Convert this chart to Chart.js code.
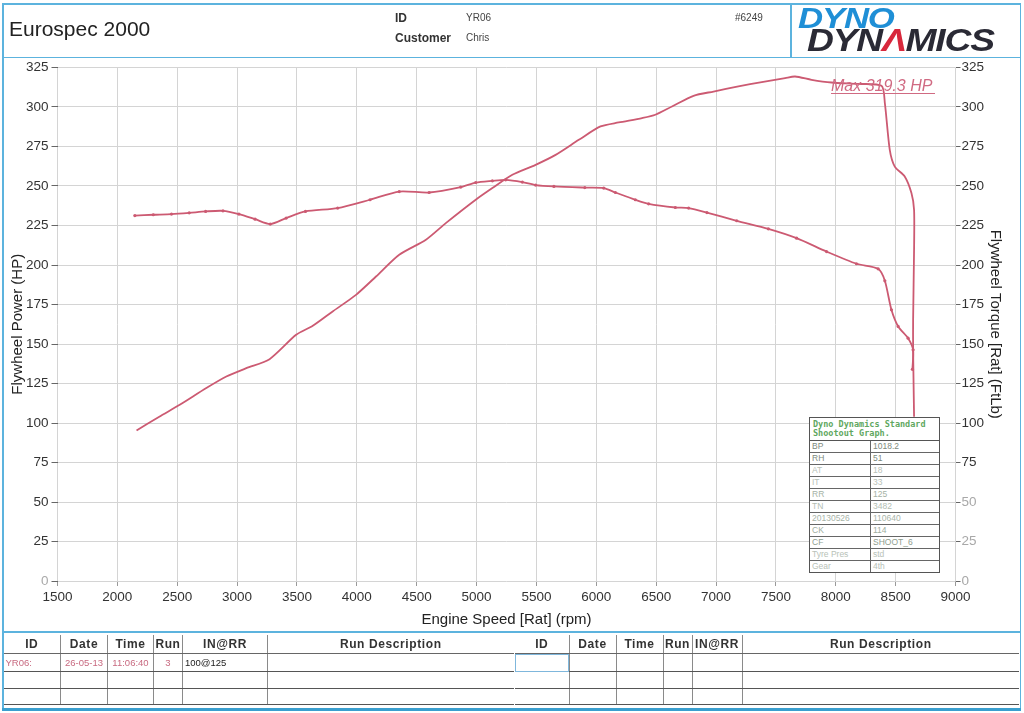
<!DOCTYPE html>
<html>
<head>
<meta charset="utf-8">
<script src="https://cdn.jsdelivr.net/npm/chart.js@4/dist/chart.umd.min.js"></script>
<style>
  html,body{margin:0;padding:0;background:#fff;}
  body{width:1024px;height:713px;overflow:hidden;position:relative;font-family:"Liberation Sans",Arial,sans-serif;color:#222;}
  #c{position:absolute;left:0;top:0;}
  .bl{position:absolute;background:#5cb3de;}
  .hd{position:absolute;line-height:1;white-space:nowrap;}
  .tbl{position:absolute;border-collapse:collapse;table-layout:fixed;}
  .tbl td{padding:0;border-left:1px solid #8a8a8a;border-bottom:1px solid #555;text-align:center;white-space:nowrap;overflow:hidden;font-size:9.5px;}
  .tbl td:first-child{border-left:none;}
  .tbl tr.h td{height:18px;font-weight:bold;font-size:12px;letter-spacing:0.6px;color:#333;border-bottom:1px solid #666;}
  .tbl tr.r1 td{height:17px;}
  .tbl tr.r td{height:15.5px;}
  .pk{color:#c86a80;}
  .lft{text-align:left !important;padding-left:2px !important;}
  #info{position:absolute;left:809px;top:417px;width:129px;border:1px solid #555;background:#fff;}
  #info .ih{height:20px;border-bottom:1px solid #555;font:bold 8.5px "DejaVu Sans Mono",monospace;color:#5fa85f;padding:2px 0 0 3px;line-height:9px;}
  #info .ir{height:11px;border-bottom:1px solid #666;display:flex;font-size:8.5px;line-height:11px;}
  #info .ir:last-child{border-bottom:none;}
  #info .k{width:58px;border-right:1px solid #666;padding-left:2px;flex:none;}
  #info .v{padding-left:2px;}
  #maxlbl{position:absolute;left:831px;top:79px;font-style:italic;font-size:16px;line-height:14px;color:#d06a82;border-bottom:1px solid #d06a82;padding-right:3px;white-space:nowrap;}
</style>
</head>
<body>
<canvas id="c" width="1024" height="713"></canvas>

<!-- frame lines -->
<div class="bl" style="left:2px;top:3px;width:1018px;height:1.5px;"></div>
<div class="bl" style="left:2px;top:56.5px;width:1018px;height:1.5px;"></div>
<div class="bl" style="left:2px;top:3px;width:1.5px;height:708px;"></div>
<div class="bl" style="left:1019.5px;top:3px;width:1.5px;height:708px;"></div>
<div class="bl" style="left:790px;top:3px;width:1.5px;height:54px;"></div>
<div class="bl" style="left:2px;top:631px;width:1019px;height:1.5px;"></div>
<div class="bl" style="left:2px;top:708px;width:1019px;height:3px;background:#3a9fcf;"></div>

<!-- header -->
<div class="hd" style="left:9px;top:17.5px;font-size:21px;color:#222;">Eurospec 2000</div>
<div class="hd" style="left:395px;top:12px;font-size:12px;font-weight:bold;color:#333;">ID</div>
<div class="hd" style="left:395px;top:32px;font-size:12px;font-weight:bold;color:#333;">Customer</div>
<div class="hd" style="left:466px;top:13px;font-size:10px;color:#444;">YR06</div>
<div class="hd" style="left:466px;top:33px;font-size:10px;color:#444;">Chris</div>
<div class="hd" style="left:735px;top:13px;font-size:10px;color:#444;">#6249</div>
<div class="hd" style="left:798px;top:4px;font-size:29px;font-weight:bold;font-style:italic;color:#1f8fd6;letter-spacing:-1px;transform:scaleX(1.2);transform-origin:left top;">DYNO</div>
<div class="hd" style="left:807px;top:25px;font-size:31px;font-weight:bold;font-style:italic;color:#2a2a35;letter-spacing:-1px;transform:scaleX(1.2);transform-origin:left top;">DYN<span style="color:#d8283c;">Λ</span>MICS</div>

<div id="maxlbl">Max 319.3 HP</div>

<div id="info">
  <div class="ih">Dyno Dynamics Standard<br>Shootout Graph.</div>
  <div class="ir" style="color:#7d8a7d"><span class="k">BP</span><span class="v">1018.2</span></div>
  <div class="ir" style="color:#7d8a7d"><span class="k">RH</span><span class="v">51</span></div>
  <div class="ir" style="color:#b8c2b8"><span class="k">AT</span><span class="v">18</span></div>
  <div class="ir" style="color:#b8c2b8"><span class="k">IT</span><span class="v">33</span></div>
  <div class="ir" style="color:#a5b2a5"><span class="k">RR</span><span class="v">125</span></div>
  <div class="ir" style="color:#b3beb3"><span class="k">TN</span><span class="v">3482</span></div>
  <div class="ir" style="color:#a8b4a8"><span class="k">20130526</span><span class="v">110640</span></div>
  <div class="ir" style="color:#a0aea0"><span class="k">CK</span><span class="v">114</span></div>
  <div class="ir" style="color:#8f9e8f"><span class="k">CF</span><span class="v">SHOOT_6</span></div>
  <div class="ir" style="color:#b8c2b8"><span class="k">Tyre Pres</span><span class="v">std</span></div>
  <div class="ir" style="color:#b8c2b8"><span class="k">Gear</span><span class="v">4th</span></div>
</div>

<!-- run tables -->
<table class="tbl" style="left:3.5px;top:635px;width:510px;">
  <colgroup><col style="width:57px"><col style="width:47px"><col style="width:46px"><col style="width:29px"><col style="width:85px"><col style="width:246px"></colgroup>
  <tr class="h"><td>ID</td><td>Date</td><td>Time</td><td>Run</td><td>IN@RR</td><td>Run Description</td></tr>
  <tr class="r1"><td class="pk lft">YR06:</td><td class="pk">26-05-13</td><td class="pk">11:06:40</td><td class="pk">3</td><td class="lft">100@125</td><td></td></tr>
  <tr class="r"><td></td><td></td><td></td><td></td><td></td><td></td></tr>
  <tr class="r"><td></td><td></td><td></td><td></td><td></td><td></td></tr>
</table>
<table class="tbl" style="left:515px;top:635px;width:504px;">
  <colgroup><col style="width:54px"><col style="width:47px"><col style="width:47px"><col style="width:29px"><col style="width:50px"><col style="width:277px"></colgroup>
  <tr class="h"><td>ID</td><td>Date</td><td>Time</td><td>Run</td><td>IN@RR</td><td>Run Description</td></tr>
  <tr class="r1"><td style="outline:1px solid #7fb7dc;outline-offset:-1px;"></td><td></td><td></td><td></td><td></td><td></td></tr>
  <tr class="r"><td></td><td></td><td></td><td></td><td></td><td></td></tr>
  <tr class="r"><td></td><td></td><td></td><td></td><td></td><td></td></tr>
</table>

<script>
// ---- data read from the dyno sheet ----
const powerRpm = [2160, 2350, 2521, 2743, 2910, 3077, 3271, 3493, 3632, 3798, 3993, 4160, 4354, 4577, 4743, 4993, 5132, 5299, 5493, 5660, 5854, 6035, 6187, 6382, 6493, 6632, 6812, 6979, 7187, 7382, 7577, 7660, 7798, 7965, 8180, 8382, 8410, 8451, 8493, 8576, 8632, 8654, 8654, 8646, 8646, 8654];
const powerHp  = [95.3, 104, 111.5, 122.1, 129.4, 134.7, 140.4, 155.8, 161.5, 170.6, 181.1, 192.7, 206.5, 216, 226.5, 241.3, 248.7, 257.1, 263.4, 269.7, 279.2, 287.7, 290.2, 293, 295.1, 300.3, 307.1, 309.8, 313, 315.8, 318.3, 319.3, 317.2, 315.5, 314.6, 313.4, 302.5, 272.9, 262.3, 256, 245.5, 234.9, 209.6, 165.3, 146.3, 104];
const torqueRpm = [2146, 2300, 2452, 2600, 2737, 2882, 3015, 3150, 3277, 3410, 3571, 3840, 4110, 4354, 4604, 4868, 4993, 5132, 5243, 5382, 5493, 5646, 5904, 6062, 6160, 6326, 6437, 6660, 6771, 6924, 7173, 7437, 7673, 7923, 8173, 8354, 8410, 8465, 8521, 8604, 8646, 8640];
const torqueFtLb = [231.3, 231.8, 232.2, 233, 233.9, 234.3, 232.2, 229, 225.9, 229.7, 233.9, 236, 241.3, 246.5, 245.9, 249.3, 252.2, 253.3, 253.9, 252.5, 250.6, 249.7, 249, 248.7, 245.9, 241.3, 238.7, 236.4, 236, 233.2, 228, 222.9, 217, 208.5, 200.8, 197.6, 190, 171.6, 161.1, 153.7, 146.3, 134];
const rpmTicks = [1500, 2000, 2500, 3000, 3500, 4000, 4500, 5000, 5500, 6000, 6500, 7000, 7500, 8000, 8500, 9000];
const valueTicks = [0, 25, 50, 75, 100, 125, 150, 175, 200, 225, 250, 275, 300, 325];

const curveColor = '#cc5a72';
const gridColor = '#d4d4d4';
const tickFont = {family: '"Liberation Sans", Arial, sans-serif', size: 13.5};
const titleFont = {family: '"Liberation Sans", Arial, sans-serif', size: 15};

const setTicks = (arr) => (scale) => { scale.ticks = arr.map(v => ({value: v})); };
const plain = (v) => String(v);

new Chart(document.getElementById('c').getContext('2d'), {
  type: 'line',
  data: {
    datasets: [
      {
        label: 'Flywheel Power (HP)',
        data: powerRpm.map((r, i) => ({x: r, y: powerHp[i]})),
        yAxisID: 'y',
        borderColor: curveColor,
        borderWidth: 1.8,
        pointRadius: 0,
        tension: 0.25,
        fill: false
      },
      {
        label: 'Flywheel Torque (FtLb)',
        data: torqueRpm.map((r, i) => ({x: r, y: torqueFtLb[i]})),
        yAxisID: 'y1',
        borderColor: curveColor,
        borderWidth: 1.8,
        pointRadius: 1.6,
        pointBorderWidth: 0,
        pointBackgroundColor: curveColor,
        tension: 0.25,
        fill: false
      }
    ]
  },
  options: {
    responsive: false,
    animation: false,
    devicePixelRatio: 1,
    layout: {padding: {top: 67.5, bottom: 82, left: 0, right: 0}},
    plugins: {legend: {display: false}, tooltip: {enabled: false}},
    scales: {
      x: {
        type: 'linear', min: 1500, max: 9000,
        afterBuildTicks: setTicks(rpmTicks),
        afterFit: (s) => { s.height = 50; },
        border: {display: false},
        grid: {color: gridColor, tickLength: 5, tickColor: '#999'},
        ticks: {font: tickFont, color: '#333', padding: 3, maxRotation: 0, autoSkip: false, callback: plain},
        title: {display: true, text: 'Engine Speed [Rat] (rpm)', font: titleFont, color: '#222', padding: {top: 0, bottom: 2}}
      },
      y: {
        position: 'left', min: 0, max: 325,
        afterBuildTicks: setTicks(valueTicks),
        afterFit: (s) => { s.width = 57.5; },
        border: {display: false},
        grid: {color: gridColor, tickLength: 6, tickColor: '#666'},
        ticks: {font: tickFont, color: (c) => c.tick && c.tick.value === 0 ? '#aaa' : '#333', padding: 3, autoSkip: false, callback: plain},
        title: {display: true, text: 'Flywheel Power (HP)', font: titleFont, color: '#222', padding: {top: 9, bottom: 0}}
      },
      y1: {
        position: 'right', min: 0, max: 325,
        afterBuildTicks: setTicks(valueTicks),
        afterFit: (s) => { s.width = 68.5; },
        border: {display: false},
        grid: {drawOnChartArea: false, tickLength: 5, tickColor: '#666'},
        ticks: {font: tickFont, color: (c) => c.tick && c.tick.value <= 50 ? '#a8a8a8' : '#333', padding: 1, autoSkip: false, callback: plain},
        title: {display: true, text: 'Flywheel Torque [Rat] (FtLb)', font: titleFont, color: '#222', padding: {top: 20, bottom: 0}}
      }
    }
  }
});
</script>
</body>
</html>
